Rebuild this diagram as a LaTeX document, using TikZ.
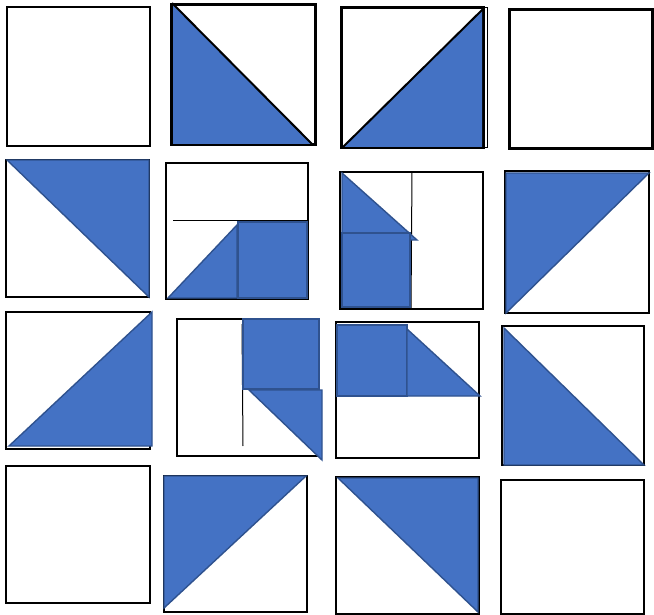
\documentclass[tikz,border=0pt]{standalone}
\usepackage{xcolor}
\usetikzlibrary{positioning}
\definecolor{tile}{RGB}{68,114,196}
\definecolor{tileedge}{RGB}{47,82,143}

\begin{document}
\begin{tikzpicture}[
  x=1pt, y=-1pt,
  frame/.style={draw=black, line width=1.6pt, fill=white},
  heavy/.style={draw=black, line width=3pt, fill=white},
  patch/.style={fill=tile, draw=tileedge, line width=1.4pt, line join=miter},
  rule/.style={draw=black, line width=1pt}]

  \useasboundingbox (0,0) rectangle (654,615);

  % --- row 1
  \draw[frame] (7,7) rectangle (150,146);
  \draw[heavy] (171,5) rectangle (315,145);
  \fill[tile] (173,5) -- (173,144) -- (313,144) -- cycle;
  \draw[black, line width=2pt] (172,3) -- (313,145);
  \draw[black, line width=1pt] (484,8) rectangle (487,148);
  \draw[heavy] (341,8) rectangle (483,148);
  \fill[tile] (343,147) -- (482,10) -- (482,147) -- cycle;
  \draw[black, line width=2pt] (343,147) -- (483,9);
  \draw[heavy] (509,10) rectangle (652,149);

  % --- row 2
  \draw[frame] (6,160) rectangle (149,297);
  \draw[patch] (7,160) -- (149,160) -- (149,297) -- cycle;
  \draw[frame] (166,163) rectangle (308,299);
  \draw[rule] (173,221) -- (308,221);
  \draw[patch] (168,298) -- (237,225) -- (237,298) -- cycle;
  \draw[patch] (238,222) rectangle (307,298);
  \draw[frame] (340,172) rectangle (483,309);
  \draw[rule] (412,172) -- (411,309);
  \draw[patch] (342,173) -- (417,240) -- (342,240) -- cycle;
  \draw[patch] (342,233) rectangle (410,307);
  \draw[frame] (505,171) rectangle (649,313);
  \draw[patch] (506,173) -- (649,173) -- (506,313) -- cycle;

  % --- row 3
  \draw[frame] (6,312) rectangle (150,449);
  \draw[patch] (9,446) -- (152,312) -- (152,446) -- cycle;
  \draw[frame] (177,319) rectangle (319,456);
  \draw[rule] (242,324) -- (243,446);
  \draw[patch] (243,319) rectangle (319,389);
  \draw[patch] (249,390) -- (322,390) -- (322,460) -- cycle;
  \draw[frame] (336,322) rectangle (479,458);
  \draw[patch] (337,325) rectangle (407,396);
  \draw[patch] (407,329) -- (407,396) -- (480,396) -- cycle;
  \draw[frame] (502,326) rectangle (644,465);
  \draw[patch] (504,328) -- (504,465) -- (644,465) -- cycle;

  % --- row 4
  \draw[frame] (6,466) rectangle (150,603);
  \draw[frame] (164,476) rectangle (307,612);
  \draw[patch] (164,476) -- (306,476) -- (164,608) -- cycle;
  \draw[frame] (336,477) rectangle (479,614);
  \draw[patch] (338,478) -- (478,478) -- (478,612) -- cycle;
  \draw[frame] (501,480) rectangle (644,614);
\end{tikzpicture}
\end{document}
